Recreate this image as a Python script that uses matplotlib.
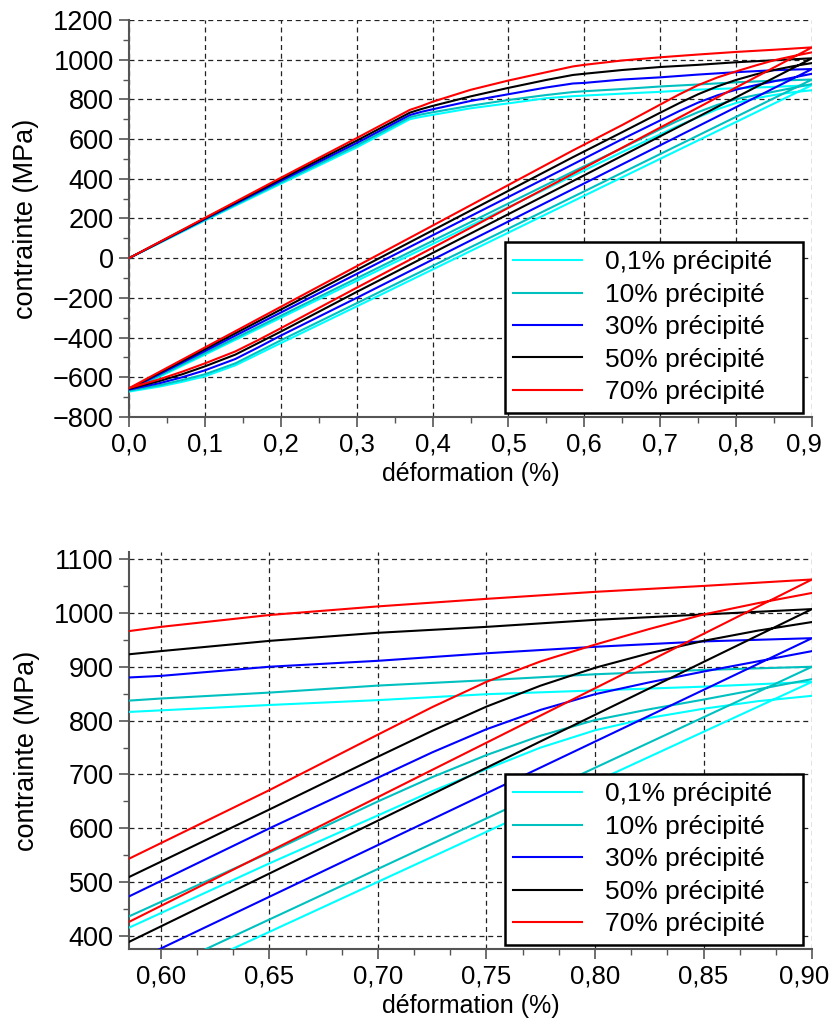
import numpy as np
import matplotlib.pyplot as plt
import matplotlib.transforms as mtransforms
from matplotlib.ticker import MultipleLocator, FuncFormatter

plt.rcParams['font.family'] = ['Liberation Sans', 'DejaVu Sans']

# strain grids (%) for the three branches of each loop
load_strain = [0, 0.1, 0.2, 0.3, 0.37, 0.385, 0.40, 0.45, 0.50, 0.55, 0.585, 0.60,
               0.65, 0.70, 0.75, 0.80, 0.85, 0.90]
unload_strain = [0.9, 0.6, 0.45, 0.3, 0.2, 0.17, 0.14, 0.1, 0.07, 0.04, 0.0]
reload_strain = [0, 0.2, 0.4, 0.585, 0.65, 0.70, 0.725, 0.75, 0.775, 0.80, 0.825, 0.85, 0.875, 0.9]

labels = ['0,1% précipité', '10% précipité', '30% précipité', '50% précipité', '70% précipité']
colors = ['#00FFFF', '#00C0C0', '#0000FF', '#000000', '#FF0000']

# stress (MPa) - loading
load_01 = [0, 190, 375, 558, 700, 712, 722, 755, 780, 806, 816, 819, 829, 838, 849, 856, 863, 872]
load_10 = [0, 193, 382, 568, 710, 724, 735, 768, 797, 822, 837, 841, 852, 865, 875, 886, 894, 900]
load_30 = [0, 197, 390, 580, 721, 737, 750, 792, 826, 860, 880, 883, 900, 911, 925, 937, 947, 953]
load_50 = [0, 200, 398, 592, 733, 751, 767, 815, 858, 898, 923, 929, 948, 963, 974, 987, 997, 1007]
load_70 = [0, 203, 405, 605, 747, 766, 788, 848, 895, 937, 966, 974, 996, 1012, 1026, 1039, 1050, 1062]

# unloading
unload_01 = [872, 315, 36, -243, -428, -484, -540, -595, -623, -647, -672]
unload_10 = [900, 337, 55, -227, -414, -472, -530, -585, -614, -640, -667]
unload_30 = [953, 377, 89, -200, -390, -450, -508, -565, -600, -630, -662]
unload_50 = [1007, 418, 124, -170, -370, -428, -486, -545, -585, -619, -658]
unload_70 = [1062, 456, 153, -149, -353, -413, -470, -530, -572, -610, -655]

# reloading
reload_01 = [-672, -300, 71, 415, 535, 624, 669, 710, 750, 782, 805, 822, 836, 846]
reload_10 = [-667, -290, 87, 436, 555, 650, 695, 736, 772, 801, 821, 839, 858, 877]
reload_30 = [-662, -274, 115, 473, 600, 694, 741, 784, 820, 849, 871, 891, 910, 929]
reload_50 = [-658, -259, 140, 509, 635, 733, 781, 826, 865, 898, 925, 948, 967, 983]
reload_70 = [-655, -245, 164, 543, 671, 774, 825, 872, 910, 941, 970, 997, 1018, 1037]

loads = [load_01, load_10, load_30, load_50, load_70]
unloads = [unload_01, unload_10, unload_30, unload_50, unload_70]
reloads = [reload_01, reload_10, reload_30, reload_50, reload_70]

fs_leg = 19
fs_ytick = 19.5
fs_xtick = 18.5

fig = plt.figure(figsize=(8.35, 10.19), dpi=100)
ax1 = fig.add_axes([0.1545, 0.5908, 0.818, 0.3896])
ax2 = fig.add_axes([0.1545, 0.0687, 0.818, 0.3896])


def yfmt(v, pos):
    return f'{int(round(v))}'.replace('-', '\u2212')


for ax in (ax1, ax2):
    for i in range(5):
        x = np.concatenate([load_strain, unload_strain, reload_strain])
        y = np.concatenate([loads[i], unloads[i], reloads[i]])
        # trailing spaces give the wider box of the original legend
        ax.plot(x, y, color=colors[i], lw=1.5, label=labels[i] + '   ', zorder=3)

    ax.grid(True, which='major', color='#222222', lw=0.9, linestyle=(0, (4, 3)))
    ax.set_axisbelow(True)
    for s in ['top', 'right']:
        ax.spines[s].set_visible(False)
    for s in ['left', 'bottom']:
        ax.spines[s].set_color('#555555')
        ax.spines[s].set_linewidth(1.5)
    ax.tick_params(which='major', direction='out', length=7, width=1.2, color='#555555', pad=4)
    ax.tick_params(axis='y', labelsize=fs_ytick)
    ax.tick_params(axis='x', labelsize=fs_xtick)
    ax.tick_params(which='minor', direction='out', length=4, width=1.0, color='#555555')
    ax.yaxis.set_major_formatter(FuncFormatter(yfmt))
    ax.set_xlabel('déformation (%)', fontsize=18, labelpad=4)
    ax.set_ylabel('contrainte (MPa)', fontsize=19.5, labelpad=10)
    leg = ax.legend(loc='lower right', bbox_to_anchor=(0.987, 0.011), fontsize=fs_leg,
                    frameon=True, fancybox=False, handlelength=2.6, handletextpad=0.9,
                    labelspacing=0.32, borderpad=0.32, borderaxespad=0)
    leg.get_frame().set_edgecolor('black')
    leg.get_frame().set_linewidth(1.8)
    leg.get_frame().set_alpha(1)

# full loop
ax1.set_xlim(0, 0.9)
ax1.set_ylim(-800, 1200)
ax1.xaxis.set_major_locator(MultipleLocator(0.1))
ax1.xaxis.set_minor_locator(MultipleLocator(0.05))
ax1.yaxis.set_major_locator(MultipleLocator(200))
ax1.yaxis.set_minor_locator(MultipleLocator(100))
ax1.xaxis.set_major_formatter(FuncFormatter(lambda v, p: f'{v:.1f}'.replace('.', ',')))

# zoom on the upper part
ax2.set_xlim(0.5853, 0.9)
ax2.set_ylim(376, 1113)
ax2.xaxis.set_major_locator(MultipleLocator(0.05))
ax2.xaxis.set_minor_locator(MultipleLocator(0.05 / 3))
ax2.yaxis.set_major_locator(MultipleLocator(100))
ax2.yaxis.set_minor_locator(MultipleLocator(50))
ax2.xaxis.set_major_formatter(FuncFormatter(lambda v, p: f'{v:.2f}'.replace('.', ',')))

# last tick label sits a little to the left so it stays inside the picture
fig.canvas.draw()
for ax, txt in ((ax1, '0,9'), (ax2, '0,90')):
    for lab in ax.get_xticklabels():
        if lab.get_text() == txt:
            lab.set_transform(lab.get_transform() +
                              mtransforms.ScaledTranslation(-6 / 72, 0, fig.dpi_scale_trans))

fig.savefig('out.png', dpi=100)
